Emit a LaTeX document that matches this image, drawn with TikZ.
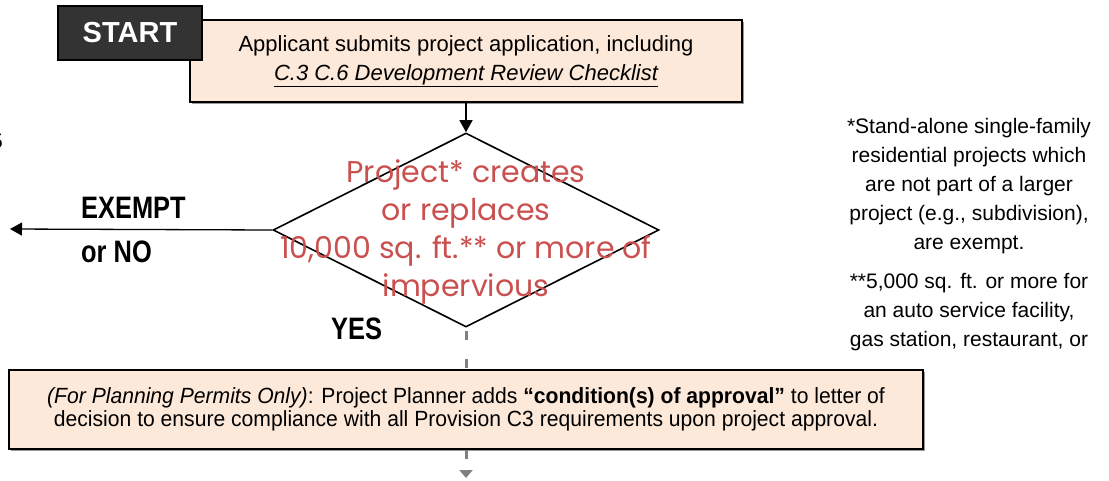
\documentclass[tikz,border=0pt]{standalone}
\usepackage{fontspec}
\setmainfont{Liberation Sans}
\newfontfamily\narrowfont[FakeStretch=0.82]{Liberation Sans}
\newfontfamily\planfont[FakeStretch=0.96]{Liberation Sans}
\newfontfamily\questionfont{Poppins}
\usetikzlibrary{shapes.geometric,arrows.meta}
\definecolor{peach}{HTML}{FDE9D9}
\definecolor{startgray}{HTML}{333333}
\definecolor{questionred}{HTML}{C9504F}
\definecolor{flowgray}{HTML}{808080}
\begin{document}
\begin{tikzpicture}[x=1pt,y=-1pt,
  procbox/.style={draw=black, line width=1.6pt, fill=peach, inner sep=0pt, align=center,
    preaction={fill=black!40, transform canvas={xshift=1.6pt,yshift=-1.6pt}}},
  startbox/.style={draw=black, line width=1.4pt, fill=startgray, text=white, inner sep=0pt,
    font=\fontsize{29}{32}\selectfont\bfseries},
  decision/.style={diamond, draw=black, line width=1.6pt, inner sep=0pt,
    minimum width=386pt, minimum height=194pt},
  flowarrow/.style={draw=black, line width=1.3pt, -{Triangle[length=12pt,width=13pt]}},
  graydash/.style={draw=flowgray, line width=3pt},
  branchlabel/.style={font=\narrowfont\fontsize{31}{34}\selectfont\bfseries, anchor=west, inner sep=0pt},
  notetext/.style={font=\fontsize{21}{29}\selectfont, align=center, inner sep=0pt}
]
\useasboundingbox (0,0) rectangle (1109,480);

% cut-off label at the left edge
\node[font=\fontsize{21}{24}\selectfont, inner sep=0pt] (edgefive) at (-3,141) {5};

% application step and start tag
\node[procbox, minimum width=552pt, minimum height=82pt, font=\fontsize{22}{29}\selectfont]
  (apply) at (466,61)
  {Applicant submits project application, including\\
   \underline{\itshape C.3 C.6 Development Review Checklist}};
\node[startbox, minimum width=144pt, minimum height=54pt] (start) at (130,33) {START};

% size threshold decision
\node[decision] (threshold) at (466,230) {};
\node[font=\questionfont\fontsize{30}{38}\selectfont, text=questionred, align=center, inner sep=0pt]
  (thresholdtext) at (466,232)
  {Project* creates\\ or replaces\\ 10,000 sq. ft.** or more of\\ impervious};
\draw[flowarrow] (apply.south) -- (threshold.north);

% exempt branch
\coordinate (exemptend) at (10,229);
\draw[flowarrow] (threshold.west) -- (exemptend);
\node[branchlabel] (exemptlbl) at (81,208) {EXEMPT};
\node[branchlabel] (nolbl) at (81,252) {or NO};
\node[branchlabel] (yeslbl) at (331,329) {YES};

% planning condition step
\node[procbox, minimum width=914pt, minimum height=79pt,
  font=\planfont\fontsize{22}{23}\selectfont] (planning) at (466,409.5)
  {{\itshape(For Planning Permits Only)}: Project Planner adds \textbf{\textquotedblleft condition(s) of approval\textquotedblright} to letter of\\
   decision to ensure compliance with all Provision C3 requirements upon project approval.};
\draw[graydash, dash pattern=on 9pt off 19pt, dash phase=25pt] (threshold.south) -- (planning.north);
\coordinate (nextstep) at (466,478);
\draw[graydash, dash pattern=on 9pt off 19pt, -{Triangle[length=8pt,width=13pt]}] (planning.south) -- (nextstep);

% footnotes
\node[notetext] (notesingle) at (969,186)
  {*Stand-alone single-family\\ residential projects which\\ are not part of a larger\\ project (e.g., subdivision),\\ are exempt.};
\node[notetext] (noteauto) at (969,312)
  {**5,000 sq. ft. or more for\\ an auto service facility,\\ gas station, restaurant, or};
\end{tikzpicture}
\end{document}
